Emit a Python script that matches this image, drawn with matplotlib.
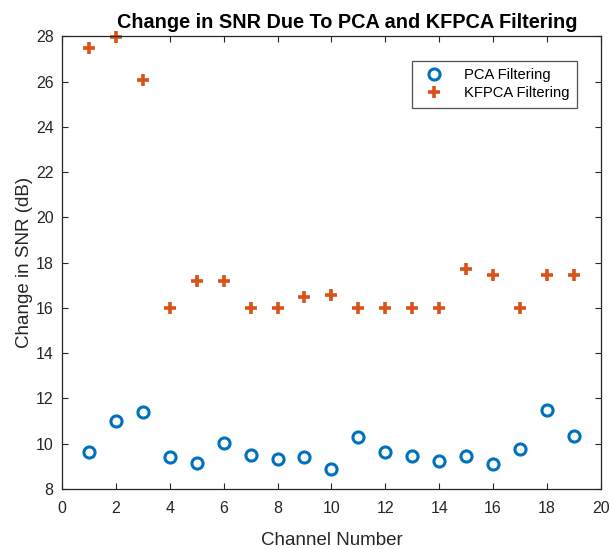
import matplotlib
matplotlib.use("Agg")
import matplotlib.pyplot as plt

plt.rcParams['font.family'] = ['Liberation Sans', 'DejaVu Sans']

# datos
canales = list(range(1, 20))
snr_pca = [9.62, 11.02, 11.39, 9.40, 9.16, 10.03, 9.49, 9.31, 9.43, 8.90,
           10.28, 9.65, 9.46, 9.24, 9.47, 9.10, 9.78, 11.47, 10.33]
snr_kfpca = [27.5, 27.95, 26.05, 16.0, 17.2, 17.2, 16.0, 16.0, 16.5, 16.55,
             16.0, 16.0, 16.0, 16.0, 17.7, 17.45, 16.0, 17.45, 17.45]

azul = '#0072BD'
naranja = '#D95319'
gris = '#262626'

fig = plt.figure(figsize=(6.1, 5.49), dpi=100)
ax = fig.add_axes([0.1016, 0.1093, 0.8834, 0.8247])

ax.plot(canales, snr_pca, linestyle='none', marker='o', markersize=8,
        markerfacecolor='none', markeredgecolor=azul, markeredgewidth=2.2,
        label='PCA Filtering', clip_on=False)
ax.plot(canales, snr_kfpca, linestyle='none', marker='+', markersize=8,
        markeredgecolor=naranja, markeredgewidth=2.6,
        label='KFPCA Filtering', clip_on=False)

ax.set_xlim(0, 20)
ax.set_ylim(8, 28)
ax.set_xticks(range(0, 21, 2))
ax.set_yticks(range(8, 29, 2))
ax.tick_params(direction='in', top=True, right=True, length=4,
               labelsize=11.5, colors=gris, width=0.8)
ax.tick_params(axis='x', pad=9)
ax.tick_params(axis='y', pad=6)
for s in ax.spines.values():
    s.set_color(gris)
    s.set_linewidth(0.9)

ax.set_xlabel('Channel Number', fontsize=13.5, color=gris, labelpad=11)
ax.set_ylabel('Change in SNR (dB)', fontsize=13.5, color=gris, labelpad=2)
ax.set_title('Change in SNR Due To PCA and KFPCA Filtering',
             fontsize=14.3, fontweight='bold', color='black', pad=6, x=0.53)

leg = ax.legend(loc='upper right', bbox_to_anchor=(0.9685, 0.9625),
                fontsize=10.6, frameon=True, fancybox=False,
                borderpad=0.5, handletextpad=1.0, labelspacing=0.3)
leg.get_frame().set_edgecolor(gris)
leg.get_frame().set_linewidth(0.9)

fig.savefig('out.png', dpi=100)
